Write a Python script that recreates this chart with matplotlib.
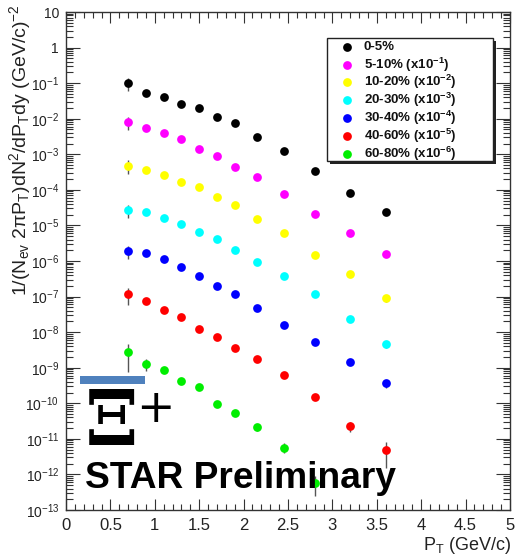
import matplotlib
matplotlib.use("Agg")
import matplotlib.pyplot as plt
from matplotlib.patches import Rectangle
from matplotlib.lines import Line2D
from matplotlib.ticker import FixedLocator, MultipleLocator

plt.rcParams['font.family'] = ['Liberation Sans', 'DejaVu Sans']
plt.rcParams['mathtext.fontset'] = 'custom'
plt.rcParams['mathtext.rm'] = 'Liberation Sans'
plt.rcParams['mathtext.it'] = 'Liberation Sans:italic'
plt.rcParams['mathtext.bf'] = 'Liberation Sans:bold'

# ---------------- data ----------------
pt = [0.7, 0.9, 1.1, 1.3, 1.5, 1.7, 1.9, 2.15, 2.45, 2.8, 3.2, 3.6]

y_0_5 = [0.10, 0.052, 0.040, 0.026, 0.020, 0.011, 0.0075, 0.0031, 0.0012, 3.3e-4, 8.1e-5, 2.45e-5]
y_5_10 = [7.9e-3, 5.4e-3, 3.9e-3, 2.7e-3, 1.39e-3, 9.2e-4, 4.5e-4, 2.36e-4, 7.7e-5, 2.07e-5, 6.1e-6, 1.6e-6]
y_10_20 = [4.8e-4, 3.57e-4, 2.59e-4, 1.68e-4, 1.21e-4, 6.1e-5, 3.8e-5, 1.53e-5, 6.3e-6, 1.49e-6, 4.4e-7, 8.9e-8]
y_20_30 = [2.74e-5, 2.36e-5, 1.67e-5, 1.13e-5, 6.7e-6, 4.1e-6, 2.02e-6, 9.2e-7, 3.9e-7, 1.2e-7, 2.33e-8, 4.6e-9]
y_30_40 = [1.9e-6, 1.7e-6, 1.13e-6, 6.9e-7, 3.84e-7, 2.0e-7, 1.17e-7, 4.9e-8, 1.58e-8, 5.4e-9, 1.44e-9, 3.7e-10]
y_40_60 = [1.17e-7, 7.5e-8, 4.2e-8, 2.59e-8, 1.25e-8, 7.1e-9, 3.57e-9, 1.79e-9, 6.1e-10, 1.47e-10, 2.24e-11, 4.9e-12]
y_60_80 = [2.7e-9, 1.3e-9, 8.8e-10, 4.3e-10, 2.9e-10, 9.5e-11, 5.2e-11, 2.1e-11, 5.7e-12, 5.7e-13]

# relative (fractional) errors
e_0_5 = [0.4, 0.08, 0.08, 0.08, 0.08, 0.08, 0.08, 0.08, 0.08, 0.08, 0.1, 0.1]
e_5_10 = [0.4, 0.08, 0.08, 0.08, 0.08, 0.08, 0.08, 0.08, 0.08, 0.1, 0.15, 0.2]
e_10_20 = [0.4, 0.08, 0.08, 0.08, 0.08, 0.08, 0.08, 0.08, 0.08, 0.1, 0.15, 0.2]
e_20_30 = [0.4, 0.08, 0.08, 0.08, 0.08, 0.08, 0.08, 0.08, 0.08, 0.1, 0.15, 0.2]
e_30_40 = [0.4, 0.08, 0.08, 0.08, 0.08, 0.08, 0.08, 0.08, 0.08, 0.1, 0.15, 0.25]
e_40_60 = [0.5, 0.1, 0.08, 0.08, 0.08, 0.08, 0.08, 0.1, 0.1, 0.15, 0.3, 0.69]
e_60_80 = [0.72, 0.36, 0.1, 0.1, 0.1, 0.1, 0.15, 0.2, 0.3, 0.57]

labels = ["0-5%",
          "5-10% (x10$^{\\mathbf{-1}}$)",
          "10-20% (x10$^{\\mathbf{-2}}$)",
          "20-30% (x10$^{\\mathbf{-3}}$)",
          "30-40% (x10$^{\\mathbf{-4}}$)",
          "40-60% (x10$^{\\mathbf{-5}}$)",
          "60-80% (x10$^{\\mathbf{-6}}$)"]
colors = ['#000000', '#ff00ff', '#ffff00', '#00ffff', '#0000ff', '#ff0000', '#00ee00']
series = [y_0_5, y_5_10, y_10_20, y_20_30, y_30_40, y_40_60, y_60_80]
errors = [e_0_5, e_5_10, e_10_20, e_20_30, e_30_40, e_40_60, e_60_80]

xticks = [0, 0.5, 1, 1.5, 2, 2.5, 3, 3.5, 4, 4.5, 5]
xtick_labels = ['0', '0.5', '1', '1.5', '2', '2.5', '3', '3.5', '4', '4.5', '5']
yticks = [1e-13, 1e-12, 1e-11, 1e-10, 1e-9, 1e-8, 1e-7, 1e-6, 1e-5, 1e-4, 1e-3, 1e-2, 1e-1, 1, 10]
ytick_labels = ['10$^{-13}$', '10$^{-12}$', '10$^{-11}$', '10$^{-10}$', '10$^{-9}$', '10$^{-8}$',
                '10$^{-7}$', '10$^{-6}$', '10$^{-5}$', '10$^{-4}$', '10$^{-3}$', '10$^{-2}$',
                '10$^{-1}$', '1', '10']

W, H = 515, 560
fig = plt.figure(figsize=(W / 100, H / 100), dpi=100)
ax = fig.add_axes([66 / W, 50 / H, 444 / W, 498 / H])
ax.set_yscale('log')
ax.set_xlim(0, 5)
ax.set_ylim(1e-13, 10)

for y, e, c in zip(series, errors, colors):
    x = pt[:len(y)]
    err = [v * r for v, r in zip(y, e)]
    ax.errorbar(x, y, yerr=err, fmt='none', ecolor='#555555', elinewidth=1, capsize=0, zorder=2)
    ax.plot(x, y, 'o', color=c, markersize=6.3, markeredgewidth=0, zorder=3)

tc = '#222222'
ax.set_xticks(xticks)
ax.set_xticklabels(xtick_labels, fontsize=12, color=tc)
ax.xaxis.set_minor_locator(MultipleLocator(0.1))
ax.set_yticks(yticks)
ax.set_yticklabels(ytick_labels, fontsize=10, color=tc)
ax.yaxis.set_minor_locator(FixedLocator([m * 10.0 ** k for k in range(-13, 1) for m in range(2, 10)]))
ax.tick_params(axis='both', which='both', direction='in', top=True, right=True, color='#333333', width=0.8)
ax.tick_params(axis='x', which='major', length=8, pad=6)
ax.tick_params(axis='x', which='minor', length=4)
ax.tick_params(axis='y', which='major', length=10, pad=5)
ax.tick_params(axis='y', which='minor', length=5)
for s in ax.spines.values():
    s.set_color('#333333')
    s.set_linewidth(1)

# axis titles
fig.text(20 / W, 1 - 4 / H,
         '1/(N$_{\\rm ev}$ 2πP$_{\\rm T}$)dN$^{2}$/dP$_{\\rm T}$dy (GeV/c)$^{-2}$',
         rotation=90, ha='center', va='top', fontsize=14, color=tc)
fig.text(511 / W, 1 - 546 / H, 'P$_{\\rm T}$ (GeV/c)', ha='right', va='center', fontsize=13, color=tc)

# legend (ROOT style box with shadow)
def fx(px):
    return px / W

def fy(py):
    return 1 - py / H

lx0, ly0, lx1, ly1 = 327, 38, 493, 161
fig.add_artist(Rectangle((fx(lx0 + 3), fy(ly1 + 3)), fx(lx1 - lx0), (ly1 - ly0) / H,
                         transform=fig.transFigure, facecolor='#222222', edgecolor='none', zorder=5))
fig.add_artist(Rectangle((fx(lx0), fy(ly1)), fx(lx1 - lx0), (ly1 - ly0) / H,
                         transform=fig.transFigure, facecolor='white', edgecolor='#222222',
                         linewidth=1, zorder=6))
for i, (lab, c) in enumerate(zip(labels, colors)):
    yy = 46.7 + i * 17.8
    fig.add_artist(Line2D([fx(347)], [fy(yy)], transform=fig.transFigure, marker='o',
                          color=c, markersize=6.3, markeredgewidth=0, zorder=7))
    fig.text(fx(364), fy(yy), lab, ha='left', va='center', fontsize=9.5, fontweight='bold',
             color='#111111', zorder=7)

# particle label
fig.add_artist(Rectangle((fx(80), fy(384)), fx(65), 8 / H, transform=fig.transFigure,
                         facecolor='#4f81bd', edgecolor='none', zorder=8))
fig.text(fx(112), fy(445), 'Ξ', ha='center', va='baseline', fontsize=55,
         family='DejaVu Serif', fontweight='bold', color='black', zorder=8)
fig.text(fx(155), fy(422), '+', ha='center', va='baseline', fontsize=33,
         family='DejaVu Sans', color='black', zorder=8)
fig.text(fx(85), fy(488), 'STAR Preliminary', ha='left', va='baseline', fontsize=26.7,
         fontweight='bold', color='black', zorder=8)

fig.savefig('out.png', dpi=100)
